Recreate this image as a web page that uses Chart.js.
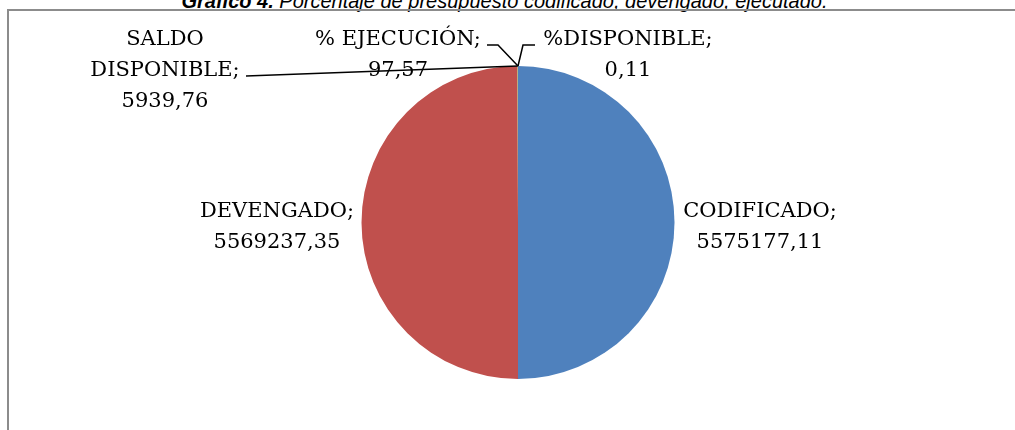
<!DOCTYPE html>
<html>
<head>
<meta charset="utf-8">
<script src="https://cdn.jsdelivr.net/npm/chart.js@4"></script>
<style>
  body { margin: 0; background: #fff; }
  #marco { position: relative; width: 1015px; height: 430px; overflow: hidden; }
  #titulo {
    position: absolute; left: 0; top: -9px; width: 1009px; text-align: center;
    font: italic 20px "Liberation Sans", Arial, sans-serif; line-height: 20px; color: #000;
  }
  #borde {
    position: absolute; left: 7px; top: 9px; width: 1100px; height: 500px;
    border-top: 2px solid #8c8c8c; border-left: 2px solid #8c8c8c;
  }
  canvas { position: absolute; left: 0; top: 0; }
</style>
</head>
<body>
<div id="marco">
  <div id="titulo"><b>Gráfico 4.</b> Porcentaje de presupuesto codificado, devengado, ejecutado.</div>
  <div id="borde"></div>
  <canvas id="grafico" width="1015" height="430"></canvas>
</div>
<script>
const categorias = ["CODIFICADO", "DEVENGADO", "SALDO DISPONIBLE", "% EJECUCIÓN", "%DISPONIBLE"];
const valores = [5575177.11, 5569237.35, 5939.76, 97.57, 0.11];
const colores = ["#4F81BD", "#C0504D", "#9BBB59", "#8064A2", "#4BACC6"];

// donde va cada etiqueta (centro x, linea base de la primera linea)
const posEtiquetas = [
  { x: 760, y: 217, lineas: ["CODIFICADO;"] },
  { x: 277, y: 217, lineas: ["DEVENGADO;"] },
  { x: 165, y: 45, lineas: ["SALDO", "DISPONIBLE;"] },
  { x: 398, y: 45, lineas: ["% EJECUCIÓN;"] },
  { x: 628, y: 45, lineas: ["%DISPONIBLE;"] },
];
// lineas guia desde el borde del sector
const guias = {
  2: [[246, 76]],
  3: [[498, 45], [487, 45]],
  4: [[523, 45], [535, 45]],
};

function formato(v) {
  return v.toFixed(2).replace(".", ",");
}

const etiquetasPlugin = {
  id: "etiquetas",
  afterDatasetsDraw(chart) {
    const ctx = chart.ctx;
    const arcos = chart.getDatasetMeta(0).data;
    ctx.save();
    ctx.strokeStyle = "#000";
    ctx.lineWidth = 1.5;
    Object.keys(guias).forEach((i) => {
      const a = arcos[i];
      const medio = (a.startAngle + a.endAngle) / 2;
      ctx.beginPath();
      ctx.moveTo(a.x + Math.cos(medio) * a.outerRadius, a.y + Math.sin(medio) * a.outerRadius);
      guias[i].forEach((p) => ctx.lineTo(p[0], p[1]));
      ctx.stroke();
    });
    ctx.fillStyle = "#000";
    ctx.font = '21px "DejaVu Serif"';
    ctx.textAlign = "center";
    ctx.textBaseline = "alphabetic";
    posEtiquetas.forEach((pos, i) => {
      const lineas = pos.lineas.concat([formato(valores[i])]);
      lineas.forEach((t, j) => {
        ctx.fillText(t, pos.x, pos.y + j * 31);
      });
    });
    ctx.restore();
  },
};

document.addEventListener(
  "DOMContentLoaded",
  () => {
    new Chart(document.getElementById("grafico"), {
      type: "pie",
      data: {
        labels: categorias,
        datasets: [
          {
            data: valores,
            backgroundColor: colores,
            borderWidth: 0,
          },
        ],
      },
      options: {
        responsive: false,
        animation: false,
        layout: { padding: { left: 21, right: 0, top: 66, bottom: 51 } },
        plugins: {
          legend: { display: false },
          tooltip: { enabled: false },
        },
      },
      plugins: [etiquetasPlugin],
    });
  },
  false
);
</script>
</body>
</html>
